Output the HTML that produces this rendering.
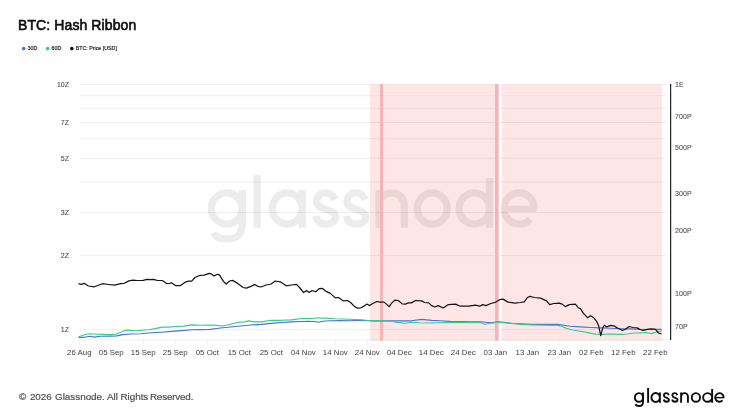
<!DOCTYPE html>
<html>
<head>
<meta charset="utf-8">
<title>BTC: Hash Ribbon</title>
<style>
html,body{margin:0;padding:0;background:#fff;}
body{width:745px;height:419px;position:relative;overflow:hidden;font-family:"Liberation Sans",sans-serif;}
.title{position:absolute;left:17.6px;top:16.1px;font-size:14px;line-height:18px;color:#0c0c0c;white-space:nowrap;
  letter-spacing:0.1px;-webkit-text-stroke:0.6px #0c0c0c;will-change:transform;}
.footer{position:absolute;left:18.3px;top:390.3px;font-size:9.85px;line-height:12px;color:#555;white-space:nowrap;will-change:transform;}
</style>
</head>
<body>
<svg width="745" height="419" viewBox="0 0 745 419" style="position:absolute;left:0;top:0;will-change:transform" font-family="Liberation Sans, sans-serif">
<rect x="370.0" y="84" width="128.60000000000002" height="256.6" fill="#fee6e6"/>
<rect x="501.8" y="84" width="160.2" height="256.6" fill="#fee6e6"/>
<path d="M79.5 329.40H666.0M79.5 255.68H666.0M79.5 212.55H666.0M79.5 181.96H666.0M79.5 158.22H666.0M79.5 138.83H666.0M79.5 122.44H666.0M79.5 108.23H666.0M79.5 95.71H370.0M662.0 95.71H666.0M79.5 84.50H370.0M662.0 84.50H666.0" stroke="#000" stroke-opacity="0.065" stroke-width="1" fill="none"/>
<path d="M370.0 84.50H662.0" stroke="#000" stroke-opacity="0.02" stroke-width="1" fill="none"/>
<path d="M370.0 95.71H662.0" stroke="#000" stroke-opacity="0.04" stroke-width="1" fill="none"/>
<path d="M79.5 340.0H666.0" stroke="#000" stroke-opacity="0.06" stroke-width="1"/>
<path d="M79.30 340.0V346.5M111.30 340.0V346.5M143.30 340.0V346.5M175.30 340.0V346.5M207.30 340.0V346.5M239.30 340.0V346.5M271.30 340.0V346.5M303.30 340.0V346.5M335.30 340.0V346.5M367.30 340.0V346.5M399.30 340.0V346.5M431.30 340.0V346.5M463.30 340.0V346.5M495.30 340.0V346.5M527.30 340.0V346.5M559.30 340.0V346.5M591.30 340.0V346.5M623.30 340.0V346.5M655.30 340.0V346.5" stroke="#000" stroke-opacity="0.05" stroke-width="1"/>
<g fill="none" stroke="#000" stroke-linecap="butt" stroke-linejoin="round" opacity="0.074"><path d="M242.25 208.45A15.45 15.60 0 1 0 211.35 208.45A15.45 15.60 0 1 0 242.25 208.45M242.25 189.93V223.85C242.25 236.14 235.30 238.95 226.80 238.95C219.08 238.95 215.21 236.14 213.20 232.76M257.25 175.30V227.70M302.15 208.45A14.90 15.60 0 1 0 272.35 208.45A14.90 15.60 0 1 0 302.15 208.45M302.15 189.93V227.70M334.96 199.71C332.59 194.72 329.25 192.85 325.70 192.85C320.18 192.85 316.64 196.59 316.64 201.27C316.64 206.58 321.37 207.83 325.70 209.39C331.22 211.26 335.55 212.19 335.55 216.87C335.55 221.55 331.22 224.05 326.09 224.05C320.97 224.05 317.03 221.55 315.85 215.94M365.26 199.71C362.91 194.72 359.58 192.85 356.05 192.85C350.56 192.85 347.03 196.59 347.03 201.27C347.03 206.58 351.74 207.83 356.05 209.39C361.54 211.26 365.85 212.19 365.85 216.87C365.85 221.55 361.54 224.05 356.44 224.05C351.35 224.05 347.43 221.55 346.25 215.94M379.15 189.93V227.70M379.15 205.15A12.55 12.30 0 0 1 404.25 205.15V227.70M447.15 208.45A14.90 15.60 0 1 0 417.35 208.45A14.90 15.60 0 1 0 447.15 208.45M489.45 208.45A15.15 15.60 0 1 0 459.15 208.45A15.15 15.60 0 1 0 489.45 208.45M489.45 178.00V227.70M534.25 208.45A15.15 15.60 0 1 0 530.18 219.09" stroke-width="7.3"/><path d="M503.95 208.78H536.44" stroke-width="6.21"/></g>
<rect x="380.0" y="84" width="3.0" height="256.6" fill="#f5b4bb"/>
<rect x="495.0" y="84" width="3.6000000000000227" height="256.6" fill="#f5b4bb"/>
<polyline points="78.5,337.3 84.2,337.3 90.3,336.3 94.3,337.1 100.4,336.3 110.6,336.1 116.7,335.9 122.7,334.6 130.9,334.0 141.0,333.8 151.1,332.8 161.3,332.2 171.4,331.4 181.6,330.6 191.7,329.8 200.1,329.6 210.3,329.4 220.4,328.0 230.6,327.0 240.7,326.0 250.9,325.0 261.0,324.4 271.1,323.4 281.3,322.5 291.4,321.9 301.6,321.5 308.0,321.4 314.0,321.5 319.1,322.2 323.0,321.2 330.3,320.7 340.4,320.6 350.6,320.8 360.7,320.2 370.9,320.8 391.1,320.8 401.3,320.8 411.4,320.8 421.6,319.4 431.7,320.4 440.1,320.8 450.3,321.4 470.6,321.8 480.7,321.8 490.9,322.8 499.0,321.8 511.1,323.2 521.3,323.8 531.4,324.2 551.7,324.4 558.1,324.4 564.2,325.2 570.3,326.3 580.4,326.9 590.6,327.5 600.7,327.9 610.9,328.3 621.0,328.7 631.1,328.9 641.3,329.5 651.4,329.3 661.6,329.3" fill="none" stroke="#4a6fe0" stroke-width="1.15" stroke-linejoin="round"/>
<polyline points="78.5,336.7 82.2,335.5 86.2,334.2 90.3,333.8 96.4,334.2 102.5,334.4 110.6,334.6 115.6,334.2 120.7,332.3 124.8,330.4 128.9,330.2 134.9,330.8 141.0,330.2 149.1,329.8 155.2,328.6 162.3,327.1 169.4,327.1 175.5,326.5 183.6,326.1 191.7,324.9 200.1,325.2 210.3,325.0 216.4,325.4 221.8,326.0 226.0,325.2 230.6,324.2 238.7,322.3 244.8,321.9 248.8,320.9 252.9,321.9 261.0,321.9 271.1,320.3 281.3,320.3 291.4,319.9 301.6,318.5 311.7,318.5 318.1,317.7 321.2,318.3 326.2,318.1 334.3,318.8 350.6,319.2 360.7,319.8 370.9,320.8 381.0,320.8 391.1,321.2 397.2,322.4 405.3,323.2 411.4,322.2 419.5,322.8 431.7,323.0 440.1,322.8 450.3,322.4 470.6,322.4 480.7,322.8 484.8,324.2 490.9,323.2 499.0,322.2 511.1,323.4 521.3,324.4 531.4,325.0 551.7,325.4 558.1,325.4 562.2,326.5 566.2,328.3 572.3,330.0 580.4,331.3 586.5,332.4 592.6,333.6 597.0,334.3 600.7,334.4 610.9,334.0 621.0,334.4 627.1,334.0 633.2,333.0 639.2,333.0 645.3,332.5 651.4,333.6 655.5,332.3 661.6,330.9" fill="none" stroke="#2fcf8c" stroke-width="1.15" stroke-linejoin="round"/>
<polyline points="78.5,283.7 81.2,284.3 84.2,283.3 88.3,286.0 94.3,286.8 102.5,283.7 108.5,284.5 114.6,285.2 120.7,283.7 123.8,283.5 128.8,280.9 132.9,280.1 136.9,280.5 143.0,280.3 147.1,279.3 150.1,279.7 153.2,279.3 157.2,280.3 162.3,280.5 166.3,283.3 169.4,283.5 171.4,282.7 175.5,285.6 180.5,285.6 185.6,281.9 188.7,281.1 191.7,281.1 195.0,277.5 200.1,275.3 204.2,275.1 209.3,273.3 211.3,273.9 213.9,275.9 217.4,274.3 219.4,274.9 223.5,281.4 226.1,284.0 229.6,281.0 232.6,280.4 237.7,283.4 243.1,287.5 246.4,288.1 250.9,286.4 254.9,284.4 258.0,286.4 261.0,287.0 266.1,285.0 271.1,284.0 275.2,281.0 280.3,281.8 286.3,285.8 291.4,285.0 296.5,284.4 299.5,287.5 303.6,292.5 306.6,290.5 309.1,292.5 312.0,290.5 315.6,291.8 317.5,290.2 319.1,288.7 322.2,288.3 326.2,291.4 330.3,293.4 335.4,297.9 338.4,297.5 343.5,300.9 347.5,300.5 350.6,302.5 354.6,306.6 357.7,308.2 360.7,308.0 364.8,305.6 366.8,304.1 369.2,305.6 372.9,303.5 376.9,301.5 380.0,302.1 384.0,302.1 387.1,304.6 389.1,306.6 392.2,302.5 395.2,300.1 398.2,300.5 402.3,303.9 405.3,304.1 408.4,302.9 411.4,302.9 415.5,300.5 421.6,300.9 424.6,302.5 428.7,302.9 431.7,305.6 434.7,307.0 438.1,305.6 443.2,308.0 448.3,304.6 455.4,304.1 460.4,306.2 468.5,306.2 475.6,305.2 479.7,306.2 482.7,304.6 485.8,305.6 490.9,303.5 495.9,302.1 500.0,299.5 503.0,299.1 508.1,302.1 515.2,303.1 520.3,302.5 524.3,301.9 527.4,297.5 529.8,296.4 534.5,297.5 540.5,298.1 546.6,300.9 549.7,304.6 553.7,303.5 559.1,303.1 562.2,304.1 565.2,306.6 569.3,304.6 575.4,304.1 578.4,308.0 580.4,308.6 583.5,313.3 587.5,317.7 590.6,315.7 593.6,317.7 596.7,321.4 598.7,325.9 600.7,335.6 602.7,327.9 604.4,325.2 606.8,326.9 610.9,325.4 613.9,325.9 618.0,328.3 622.0,330.3 625.1,329.5 629.1,326.5 633.2,327.5 637.2,327.9 640.3,329.5 643.3,330.5 647.4,329.3 651.4,328.9 655.5,329.3 658.5,333.0 661.6,334.0" fill="none" stroke="#141414" stroke-width="1.22" stroke-linejoin="round"/>
<rect x="670.1" y="84" width="1.1" height="256" fill="#111"/>
<text x="69" y="86.9" font-size="7" fill="#505050" stroke="#505050" stroke-width="0.1" text-anchor="end">10Z</text>
<text x="69" y="124.8" font-size="7" fill="#505050" stroke="#505050" stroke-width="0.1" text-anchor="end">7Z</text>
<text x="69" y="160.6" font-size="7" fill="#505050" stroke="#505050" stroke-width="0.1" text-anchor="end">5Z</text>
<text x="69" y="215.0" font-size="7" fill="#505050" stroke="#505050" stroke-width="0.1" text-anchor="end">3Z</text>
<text x="69" y="258.1" font-size="7" fill="#505050" stroke="#505050" stroke-width="0.1" text-anchor="end">2Z</text>
<text x="69" y="331.8" font-size="7" fill="#505050" stroke="#505050" stroke-width="0.1" text-anchor="end">1Z</text>
<text x="675" y="86.9" font-size="7" letter-spacing="0.1" fill="#505050" stroke="#505050" stroke-width="0.1">1E</text>
<text x="675" y="119.3" font-size="7" letter-spacing="0.1" fill="#505050" stroke="#505050" stroke-width="0.1">700P</text>
<text x="675" y="149.9" font-size="7" letter-spacing="0.1" fill="#505050" stroke="#505050" stroke-width="0.1">500P</text>
<text x="675" y="196.3" font-size="7" letter-spacing="0.1" fill="#505050" stroke="#505050" stroke-width="0.1">300P</text>
<text x="675" y="233.2" font-size="7" letter-spacing="0.1" fill="#505050" stroke="#505050" stroke-width="0.1">200P</text>
<text x="675" y="296.2" font-size="7" letter-spacing="0.1" fill="#505050" stroke="#505050" stroke-width="0.1">100P</text>
<text x="675" y="328.6" font-size="7" letter-spacing="0.1" fill="#505050" stroke="#505050" stroke-width="0.1">70P</text>
<text x="79.3" y="355.3" font-size="7.85" fill="#404040" text-anchor="middle">26 Aug</text>
<text x="111.3" y="355.3" font-size="7.85" fill="#404040" text-anchor="middle">05 Sep</text>
<text x="143.3" y="355.3" font-size="7.85" fill="#404040" text-anchor="middle">15 Sep</text>
<text x="175.3" y="355.3" font-size="7.85" fill="#404040" text-anchor="middle">25 Sep</text>
<text x="207.3" y="355.3" font-size="7.85" fill="#404040" text-anchor="middle">05 Oct</text>
<text x="239.3" y="355.3" font-size="7.85" fill="#404040" text-anchor="middle">15 Oct</text>
<text x="271.3" y="355.3" font-size="7.85" fill="#404040" text-anchor="middle">25 Oct</text>
<text x="303.3" y="355.3" font-size="7.85" fill="#404040" text-anchor="middle">04 Nov</text>
<text x="335.3" y="355.3" font-size="7.85" fill="#404040" text-anchor="middle">14 Nov</text>
<text x="367.3" y="355.3" font-size="7.85" fill="#404040" text-anchor="middle">24 Nov</text>
<text x="399.3" y="355.3" font-size="7.85" fill="#404040" text-anchor="middle">04 Dec</text>
<text x="431.3" y="355.3" font-size="7.85" fill="#404040" text-anchor="middle">14 Dec</text>
<text x="463.3" y="355.3" font-size="7.85" fill="#404040" text-anchor="middle">24 Dec</text>
<text x="495.3" y="355.3" font-size="7.85" fill="#404040" text-anchor="middle">03 Jan</text>
<text x="527.3" y="355.3" font-size="7.85" fill="#404040" text-anchor="middle">13 Jan</text>
<text x="559.3" y="355.3" font-size="7.85" fill="#404040" text-anchor="middle">23 Jan</text>
<text x="591.3" y="355.3" font-size="7.85" fill="#404040" text-anchor="middle">02 Feb</text>
<text x="623.3" y="355.3" font-size="7.85" fill="#404040" text-anchor="middle">12 Feb</text>
<text x="655.3" y="355.3" font-size="7.85" fill="#404040" text-anchor="middle">22 Feb</text>
<circle cx="23.7" cy="48.6" r="1.8" fill="#4a6fe0"/>
<text x="27.6" y="49.7" font-size="5.3" fill="#111" stroke="#111" stroke-width="0.15">30D</text>
<circle cx="47.6" cy="48.6" r="1.8" fill="#2fcf8c"/>
<text x="51.6" y="49.7" font-size="5.3" fill="#111" stroke="#111" stroke-width="0.15">60D</text>
<circle cx="71.8" cy="48.6" r="1.8" fill="#111"/>
<text x="75.7" y="49.7" font-size="5.3" fill="#111" stroke="#111" stroke-width="0.15">BTC: Price [USD]</text>
<text y="399.5" font-size="9.85" fill="#4f4f4f" stroke="#4f4f4f" stroke-width="0.2"><tspan x="19.1">©</tspan><tspan x="29.9">2026</tspan><tspan x="55.0">Glassnode.</tspan><tspan x="107.0">All</tspan><tspan x="120.4">Rights</tspan><tspan x="149.9" letter-spacing="-0.17">Reserved.</tspan></text>
<g fill="none" stroke="#0d0d0d" stroke-linecap="butt" stroke-linejoin="round"><path d="M643.05 397.48A4.10 4.33 0 1 0 634.85 397.48A4.10 4.33 0 1 0 643.05 397.48M643.05 392.39V401.69C643.05 405.23 641.21 406.05 638.95 406.05C636.90 406.05 635.88 405.23 635.34 404.24M648.10 388.00V402.75M659.90 397.48A4.23 4.33 0 1 0 651.45 397.48A4.23 4.33 0 1 0 659.90 397.48M659.90 392.39V402.75M668.79 395.05C668.17 393.67 667.29 393.15 666.35 393.15C664.89 393.15 663.96 394.19 663.96 395.49C663.96 396.96 665.21 397.30 666.35 397.73C667.81 398.25 668.95 398.51 668.95 399.81C668.95 401.11 667.81 401.80 666.45 401.80C665.10 401.80 664.06 401.11 663.75 399.55M677.39 395.05C676.74 393.67 675.82 393.15 674.85 393.15C673.34 393.15 672.37 394.19 672.37 395.49C672.37 396.96 673.66 397.30 674.85 397.73C676.36 398.25 677.55 398.51 677.55 399.81C677.55 401.11 676.36 401.80 674.96 401.80C673.55 401.80 672.47 401.11 672.15 399.55M681.10 392.39V402.75M681.10 396.51A3.42 3.36 0 0 1 687.95 396.51V402.75M700.05 397.48A4.15 4.33 0 1 0 691.75 397.48A4.15 4.33 0 1 0 700.05 397.48M712.15 397.48A4.50 4.33 0 1 0 703.15 397.48A4.50 4.33 0 1 0 712.15 397.48M712.15 389.00V402.75M723.70 397.48A4.25 4.33 0 1 0 722.56 400.42" stroke-width="1.9"/><path d="M715.20 397.62H724.27" stroke-width="1.42"/></g>
</svg>
<div class="title">BTC: Hash Ribbon</div>
</body>
</html>
